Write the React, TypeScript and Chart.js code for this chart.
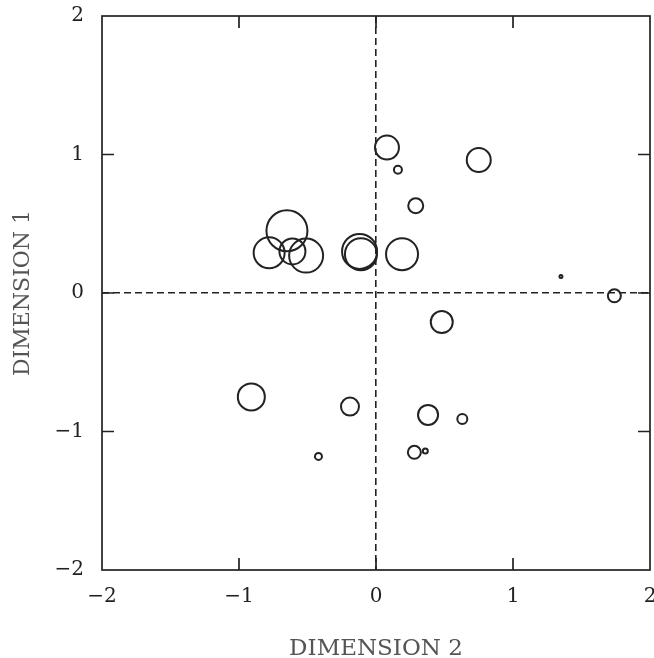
import { useEffect, useRef } from "react";
import { Chart, registerables } from "chart.js";

Chart.register(...registerables);

// DIMENSION 2 (horizontal) coordinates
const dim2Values = [
  0.08, 0.16, 0.75, 0.29, -0.65, -0.78, -0.61, -0.51, -0.12, -0.11, 0.19,
  1.35, 1.74, 0.48, -0.91, -0.19, 0.38, 0.63, 0.28, 0.36, -0.42,
];
// DIMENSION 1 (vertical) coordinates
const dim1Values = [
  1.05, 0.89, 0.96, 0.63, 0.45, 0.29, 0.3, 0.27, 0.3, 0.28, 0.28,
  0.12, -0.02, -0.21, -0.75, -0.82, -0.88, -0.91, -1.15, -1.14, -1.18,
];
// circle sizes
const circleSizes = [
  12, 4, 12, 7.5, 20.5, 15.5, 13, 17, 17.5, 16, 16,
  1.5, 6.5, 11, 13.5, 9, 10, 5, 6.5, 2.5, 3.5,
];
const axisMin = -2;
const axisMax = 2;
const innerTickValues = [-1, 0, 1];

const FONT = "'DejaVu Serif', 'Liberation Serif', serif";

const framePlugin = {
  id: "frameTicks",
  afterDatasetsDraw(chart: any) {
    const { ctx, chartArea: a, scales } = chart;
    const xs = scales.x;
    const ys = scales.y;
    ctx.save();
    ctx.strokeStyle = "#222";
    ctx.lineWidth = 1.7;
    ctx.strokeRect(a.left, a.top, a.right - a.left, a.bottom - a.top);
    const len = 12;
    ctx.beginPath();
    for (const v of innerTickValues) {
      const px = xs.getPixelForValue(v);
      ctx.moveTo(px, a.bottom);
      ctx.lineTo(px, a.bottom - len);
      ctx.moveTo(px, a.top);
      ctx.lineTo(px, a.top + len);
      const py = ys.getPixelForValue(v);
      ctx.moveTo(a.left, py);
      ctx.lineTo(a.left + len, py);
      ctx.moveTo(a.right, py);
      ctx.lineTo(a.right - len, py);
    }
    ctx.stroke();
    ctx.restore();
  },
};

const fmt = (v: any) => {
  const n = Number(v);
  return n < 0 ? "\u2212" + Math.abs(n) : String(n);
};

export default function App() {
  const ref = useRef<HTMLCanvasElement | null>(null);

  useEffect(() => {
    if (!ref.current) return;
    const points = dim2Values.map((x, i) => ({ x, y: dim1Values[i], r: circleSizes[i] }));
    const zeroColor = (c: any) => (c.tick && c.tick.value === 0 ? "#222" : "rgba(0,0,0,0)");
    const chart = new Chart(ref.current, {
      type: "bubble",
      data: {
        datasets: [
          {
            data: points,
            backgroundColor: "rgba(0,0,0,0)",
            borderColor: "#222",
            borderWidth: 2,
            hoverBorderWidth: 2,
          },
        ],
      },
      options: {
        responsive: false,
        animation: false,
        events: [],
        layout: { autoPadding: false, padding: { top: 16, right: 4, left: 0, bottom: 0 } },
        plugins: { legend: { display: false }, tooltip: { enabled: false } },
        scales: {
          x: {
            type: "linear",
            min: axisMin,
            max: axisMax,
            ticks: {
              stepSize: 1,
              color: "#222",
              padding: 15,
              font: { family: FONT, size: 20 },
              callback: fmt,
              maxRotation: 0,
            },
            grid: { color: zeroColor, lineWidth: 1.6, drawTicks: false },
            border: { display: false, dash: [7, 4] },
            title: {
              display: true,
              text: "DIMENSION 2",
              color: "#555",
              font: { family: FONT, size: 23 },
              padding: { top: 0, bottom: -5 },
            },
            afterFit: (s: any) => {
              s.height = 88;
              s.paddingLeft = 0;
              s.paddingRight = 0;
            },
          },
          y: {
            type: "linear",
            min: axisMin,
            max: axisMax,
            ticks: {
              stepSize: 1,
              color: "#222",
              padding: 18,
              font: { family: FONT, size: 20 },
              callback: fmt,
            },
            grid: { color: zeroColor, lineWidth: 1.6, drawTicks: false },
            border: { display: false, dash: [7, 4] },
            title: {
              display: true,
              text: "DIMENSION 1",
              color: "#555",
              font: { family: FONT, size: 22 },
              padding: { top: 10, bottom: 0 },
            },
            afterFit: (s: any) => {
              s.width = 102;
              s.paddingTop = 0;
              s.paddingBottom = 0;
            },
          },
        },
      },
      plugins: [framePlugin],
    });
    return () => chart.destroy();
  }, []);

  return (
    <div style={{ position: "absolute", left: 0, top: 0, width: 654, height: 658, background: "#fff" }}>
      <canvas ref={ref} width={654} height={658} />
    </div>
  );
}
